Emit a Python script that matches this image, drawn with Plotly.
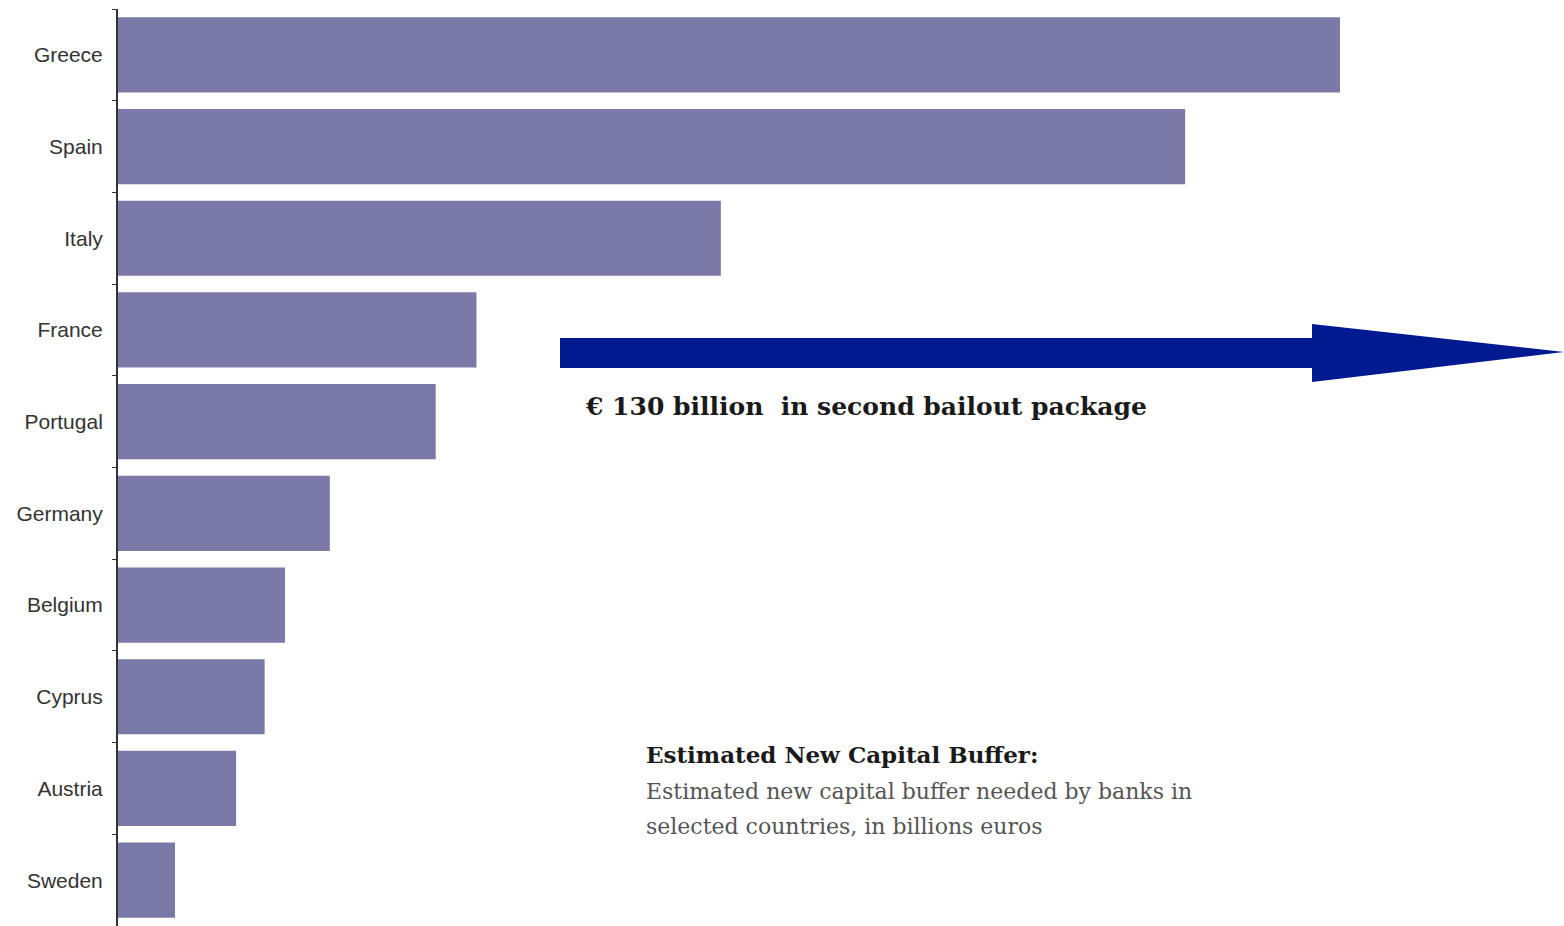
import plotly.graph_objects as go

# Estimated new capital buffer needed by banks, billions of euros
countries = ["Greece", "Spain", "Italy", "France", "Portugal",
             "Germany", "Belgium", "Cyprus", "Austria", "Sweden"]
buffer_bn = [30.0, 26.2, 14.8, 8.8, 7.8, 5.2, 4.1, 3.6, 2.9, 1.4]

W, H = 1564, 926
ML, MR, MT, MB = 118, 0, 9, 0


def px(x):
    return (x - ML) / (W - ML - MR)


def py(y):
    return 1 - (y - MT) / (H - MT - MB)


bar_color = "#7b79a8"
arrow_color = "#021a8f"

fig = go.Figure(go.Bar(
    x=buffer_bn,
    y=countries,
    orientation="h",
    marker=dict(color=bar_color, line=dict(width=0)),
    width=0.82,
    hoverinfo="x+y",
))

# Block arrow pointing right
body_l, body_r, body_t, body_b = 560, 1312, 338, 368
head_t, head_b, tip_x, tip_y = 324, 382, 1564, 352
pts = [(body_l, body_t), (body_r, body_t), (body_r, head_t), (tip_x, tip_y),
       (body_r, head_b), (body_r, body_b), (body_l, body_b)]
path = "M " + " L ".join(f"{px(a):.5f},{py(b):.5f}" for a, b in pts) + " Z"

fig.add_shape(type="path", path=path, xref="paper", yref="paper",
              fillcolor=arrow_color, line=dict(width=0), layer="above")

serif = "DejaVu Serif, Liberation Serif, serif"


def note(x, y, text, size, color):
    fig.add_annotation(
        x=px(x), y=py(y), xref="paper", yref="paper",
        xanchor="left", yanchor="middle", showarrow=False,
        text=text, font=dict(family=serif, size=size, color=color),
    )


note(583, 407, "<b>€ 130 billion&nbsp; in second bailout package</b>", 25, "#1a1a1a")
note(644, 754, "<b>Estimated New Capital Buffer:</b>", 23, "#1a1a1a")
note(644, 791, "Estimated new capital buffer needed by banks in", 22, "#555555")
note(644, 826, "selected countries, in billions euros", 22, "#555555")

fig.update_layout(
    width=W, height=H,
    margin=dict(l=ML, r=MR, t=MT, b=MB),
    paper_bgcolor="white", plot_bgcolor="white",
    showlegend=False,
    bargap=0.18,
    xaxis=dict(range=[0, 35.5], visible=False, fixedrange=True),
    yaxis=dict(
        autorange="reversed",
        showline=True, linecolor="#333333", linewidth=2,
        ticks="outside", tickson="boundaries", ticklen=4,
        tickcolor="#333333", tickwidth=1,
        showgrid=False, zeroline=False,
        tickfont=dict(family="Liberation Sans, Arial, sans-serif",
                      size=21, color="#333333"),
        ticklabelstandoff=9,
    ),
)

fig.write_html("out.html")
